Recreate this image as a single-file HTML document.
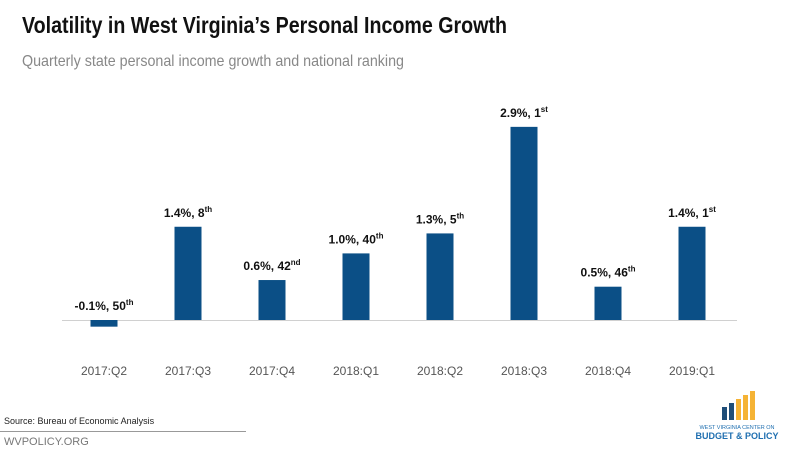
<!DOCTYPE html>
<html><head><meta charset="utf-8"><style>
body{margin:0;background:#fff;}
svg{display:block;font-family:"Liberation Sans",sans-serif;}
</style></head><body>
<svg id="chart" width="800" height="450" viewBox="0 0 800 450">
<text x="22" y="33" font-size="23" font-weight="bold" fill="#111" textLength="485" lengthAdjust="spacingAndGlyphs">Volatility in West Virginia’s Personal Income Growth</text>
<text x="22" y="66" font-size="16" fill="#888" textLength="382" lengthAdjust="spacingAndGlyphs">Quarterly state personal income growth and national ranking</text>
<line x1="62" y1="320.5" x2="737" y2="320.5" stroke="#d0d0d0" stroke-width="1"/>
<g id="bars"></g>
<text x="4" y="424" font-size="9" fill="#222">Source: Bureau of Economic Analysis</text>
<line x1="0" y1="431.5" x2="246" y2="431.5" stroke="#999"/>
<text x="4" y="445" font-size="11" fill="#777">WVPOLICY.ORG</text>
<g>
<rect x="722" y="407" width="5" height="13" fill="#1f4e79"/>
<rect x="729" y="403" width="5" height="17" fill="#1f4e79"/>
<rect x="736" y="399" width="5" height="21" fill="#f5b335"/>
<rect x="743" y="395" width="5" height="25" fill="#f5b335"/>
<rect x="750" y="391" width="5" height="29" fill="#f5b335"/>
<text x="737" y="429" font-size="5.5" fill="#1f6fb0" text-anchor="middle">WEST VIRGINIA CENTER ON</text>
<text x="737" y="439" font-size="9" font-weight="bold" fill="#1f6fb0" text-anchor="middle">BUDGET &amp; POLICY</text>
</g>
</svg>
<script>
const categories=["2017:Q2","2017:Q3","2017:Q4","2018:Q1","2018:Q2","2018:Q3","2018:Q4","2019:Q1"];
const growth=[-0.1,1.4,0.6,1.0,1.3,2.9,0.5,1.4];
const ranks=[50,8,42,40,5,1,46,1];
const suffixes=["th","th","nd","th","th","st","th","st"];
const ns="http://www.w3.org/2000/svg";
const g=document.getElementById("bars");
const x0=104,step=84,bw=27,base=320,scale=66.6;
const xPos=i=>x0+i*step;
const yPos=v=>base-v*scale;
categories.forEach((c,i)=>{
 const v=growth[i];
 const r=document.createElementNS(ns,"rect");
 r.setAttribute("x",xPos(i)-bw/2);
 r.setAttribute("y",Math.min(yPos(v),base));
 r.setAttribute("width",bw);
 r.setAttribute("height",Math.abs(yPos(v)-base));
 r.setAttribute("fill","#0b4f86");
 
 
 g.appendChild(r);
 const lt=document.createElementNS(ns,"text");
 lt.setAttribute("x",xPos(i));
 lt.setAttribute("y",Math.min(yPos(v),base)-10);
 lt.setAttribute("text-anchor","middle");
 lt.setAttribute("font-size","12");
 lt.setAttribute("font-weight","bold");
 lt.setAttribute("fill","#111");
 lt.innerHTML=v.toFixed(1)+"%, "+ranks[i]+'<tspan font-size="8" dy="-5">'+suffixes[i]+'</tspan>';
 
 
 g.appendChild(lt);
 const t=document.createElementNS(ns,"text");
 t.setAttribute("x",xPos(i));
 t.setAttribute("y",375);
 t.setAttribute("text-anchor","middle");
 t.setAttribute("font-size","12");
 t.setAttribute("fill","#555");
 t.textContent=c;
 
 
 g.appendChild(t);
});
</script>
</body></html>
